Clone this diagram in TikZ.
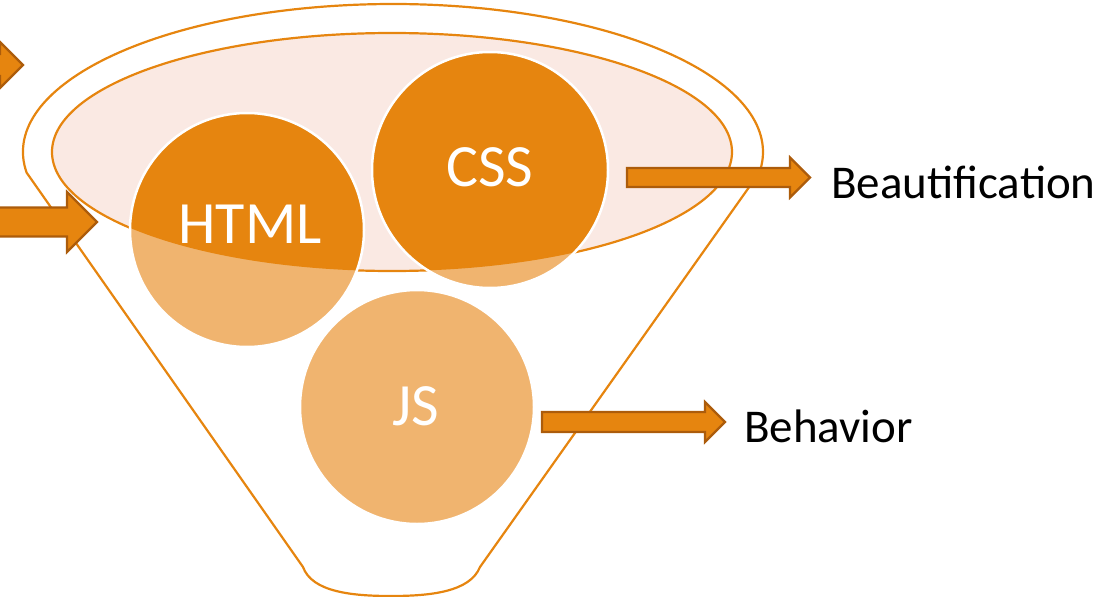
\documentclass[tikz,border=0pt]{standalone}
\usepackage{fontspec}
\setmainfont{Carlito}
\usetikzlibrary{calc}
\definecolor{funnelorange}{HTML}{E6850F}
\definecolor{paleorange}{HTML}{F0B46F}
\definecolor{bowlpink}{HTML}{FAE9E3}
\definecolor{arrowedge}{HTML}{AC5C0B}
\tikzset{
    funnelline/.style={draw=funnelorange, line width=2.2pt},
    blockarrow/.style={fill=funnelorange, draw=arrowedge, line width=2.2pt, line join=miter},
    balllabel/.style={text=white, font=\fontsize{60}{64}\selectfont, anchor=base, inner sep=0pt},
    sidelabel/.style={text=black, font=\fontsize{47}{50}\selectfont, anchor=base west, inner sep=0pt}
}
\begin{document}
\begin{tikzpicture}[x=1pt, y=-1pt]
    \useasboundingbox (0, 0) rectangle (1120, 597);
    \clip (0, 0) rectangle (1120, 597);

    \path (392, 152) coordinate (B);
    \path (247, 230) coordinate (H);
    \path (490, 170) coordinate (C);
    \path (417, 407) coordinate (J);

    % funnel
    \draw[funnelline] (26.6, 172.6) arc[start angle=188, end angle=-8, x radius=370pt, y radius=148pt]
        -- (480, 567) .. controls (470, 592) and (430, 596) .. (391, 596)
        .. controls (352, 596) and (312, 592) .. (303, 567) -- cycle;
    \filldraw[funnelline, fill=bowlpink] (B) ellipse [x radius=340, y radius=119];

    % balls
    \fill[paleorange] (H) circle (117) (C) circle (118) (J) circle (117);
    \begin{scope}
        \clip (B) ellipse [x radius=340, y radius=119];
        \fill[funnelorange] (H) circle (117) (C) circle (118);
    \end{scope}
    \draw[white, line width=2.5pt] (H) circle (117) (C) circle (118) (J) circle (117);

    \node[balllabel] (html) at (250, 243) {HTML};
    \node[balllabel] (css) at (490, 186) {CSS};
    \node[balllabel] (js) at (416, 425) {JS};

    \node[sidelabel] (beauty) at (831, 198) {Beautification};
    \node[sidelabel] (behave) at (744, 442) {Behavior};

    % arrows
    \path (627, 177.5) coordinate (S1);
    \path (810, 177.5) coordinate (T1);
    \path (542, 422) coordinate (S2);
    \path (725, 422) coordinate (T2);
    \path (-80, 222) coordinate (S3);
    \path (97, 222) coordinate (T3);
    \path (-80, 65) coordinate (S4);
    \path (23, 65) coordinate (T4);

    \filldraw[blockarrow] ($(S1)+(0,-9.5)$) -- ($(T1)+(-20,-9.5)$) -- ($(T1)+(-20,-20)$) -- (T1)
        -- ($(T1)+(-20,20)$) -- ($(T1)+(-20,9.5)$) -- ($(S1)+(0,9.5)$) -- cycle;
    \filldraw[blockarrow] ($(S2)+(0,-10)$) -- ($(T2)+(-20,-10)$) -- ($(T2)+(-20,-20)$) -- (T2)
        -- ($(T2)+(-20,20)$) -- ($(T2)+(-20,10)$) -- ($(S2)+(0,10)$) -- cycle;
    \filldraw[blockarrow] ($(S3)+(0,-14.5)$) -- ($(T3)+(-30,-14.5)$) -- ($(T3)+(-30,-30)$) -- (T3)
        -- ($(T3)+(-30,30)$) -- ($(T3)+(-30,14.5)$) -- ($(S3)+(0,14.5)$) -- cycle;
    \filldraw[blockarrow] ($(S4)+(0,-11)$) -- ($(T4)+(-23,-11)$) -- ($(T4)+(-23,-23)$) -- (T4)
        -- ($(T4)+(-23,23)$) -- ($(T4)+(-23,11)$) -- ($(S4)+(0,11)$) -- cycle;
\end{tikzpicture}
\end{document}
